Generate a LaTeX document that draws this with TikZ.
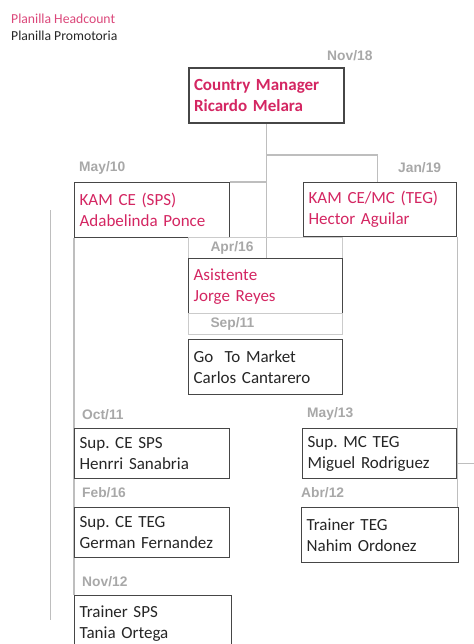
\documentclass[tikz,border=0pt]{standalone}
\usepackage{fontspec}
\setmainfont{Carlito}
\newfontfamily\datefont{Liberation Sans}
\definecolor{hcpink}{RGB}{212, 38, 98}
\definecolor{promodark}{RGB}{38, 38, 38}
\definecolor{dategray}{RGB}{168, 168, 168}
\definecolor{linegray}{RGB}{190, 190, 190}
\definecolor{boxgray}{RGB}{70, 70, 70}
\usetikzlibrary{positioning, calc, backgrounds}
\frenchspacing

\begin{document}
\begin{tikzpicture}[x=1pt, y=-1pt,
  staffbox/.style={draw=boxgray, fill=white, line width=1.3pt, minimum height=55pt, text width=145pt, inner xsep=5pt, inner ysep=0pt, align=left, anchor=north west, text=promodark, font=\fontsize{17}{21}\selectfont},
  datecell/.style={draw=linegray!80, line width=1pt, minimum height=21pt, text width=110pt, inner xsep=22pt, inner ysep=0pt, align=left, anchor=north west, text=dategray, font=\datefont\bfseries\fontsize{13.8}{16}\selectfont},
  datelbl/.style={anchor=west, inner sep=0pt, text=dategray, font=\datefont\bfseries\fontsize{13.8}{16}\selectfont},
  legend/.style={anchor=west, inner sep=0pt, font=\fontsize{13.7}{16}\selectfont},
  link/.style={draw=linegray, line width=1.2pt}]
  \clip (0,0) rectangle (473,644);

  % Legend
  \node[legend, text=hcpink!85] (leghc) at (11,19) {Planilla Headcount};
  \node[legend, text=promodark] (legpromo) at (11,36) {Planilla Promotoria};

  % Country manager
  \node[datelbl] (dcm) at (327,56) {Nov/18};
  \node[staffbox, line width=2pt, text=hcpink] (cm) at (188,67) {\bfseries Country Manager\\\bfseries Ricardo Melara};

  % KAM boxes
  \node[datelbl] (dkamsps) at (79,168) {May/10};
  \node[staffbox, text=hcpink] (kamsps) at (74,182) {KAM CE (SPS)\\Adabelinda Ponce};
  \node[datelbl] (dkammc) at (398,168) {Jan/19};
  \node[staffbox, text=hcpink, minimum height=54pt, text width=143pt] (kammc) at (303,182) {KAM CE/MC (TEG)\\Hector Aguilar};

  % Asistente and Go To Market
  \node[datecell] (dasist) at (188,237) {Apr/16};
  \node[staffbox, text=hcpink, text width=144pt] (asist) at (188,258) {Asistente\\Jorge Reyes};
  \node[datecell] (dgtm) at (188,313) {Sep/11};
  \node[staffbox, text width=144pt] (gtm) at (188,339) {Go\ \ To Market\\Carlos Cantarero};

  % SPS column
  \node[datelbl] (dsupsps) at (82,415) {Oct/11};
  \node[staffbox, minimum height=50pt] (supsps) at (74,428) {Sup. CE SPS\\Henrri Sanabria};
  \node[datelbl] (dsupteg) at (82,493) {Feb/16};
  \node[staffbox, minimum height=50pt] (supteg) at (74,507) {Sup. CE TEG\\German Fernandez};
  \node[datelbl] (dtrsps) at (82,582) {Nov/12};
  \node[staffbox, text width=147pt] (trsps) at (74,595) {Trainer SPS\\Tania Ortega};

  % TEG column
  \node[datelbl] (dsupmc) at (307,414) {May/13};
  \node[staffbox, minimum height=50pt, text width=144pt] (supmc) at (302,428) {Sup. MC TEG\\Miguel Rodriguez};
  \node[datelbl] (dtrteg) at (301,493) {Abr/12};
  \node[staffbox, text width=147pt] (trteg) at (301,507) {Trainer TEG\\Nahim Ordonez};

  \coordinate (sidetop) at (50,210);
  \coordinate (sidebot) at (50,620);

  % Connectors
  \begin{pgfonlayer}{background}
    \draw[link] (cm.south) -- (cm.south |- asist.north);
    \draw[link] (cm.south) ++(0,31) -| ($(kammc.north)+(-3,0)$);
    \draw[link] (kamsps.north east) -- (kamsps.north east -| cm.south);
    \draw[link] (kamsps.south west) -- (trsps.north west);
    \draw[link] (kammc.south east) -- (kammc.south east |- trteg.north);
    \draw[link] (supmc.south east) ++(0,-16) -- ++(20,0);
    \draw[link, line width=1pt] (sidetop) -- (sidebot);
  \end{pgfonlayer}
\end{tikzpicture}
\end{document}
